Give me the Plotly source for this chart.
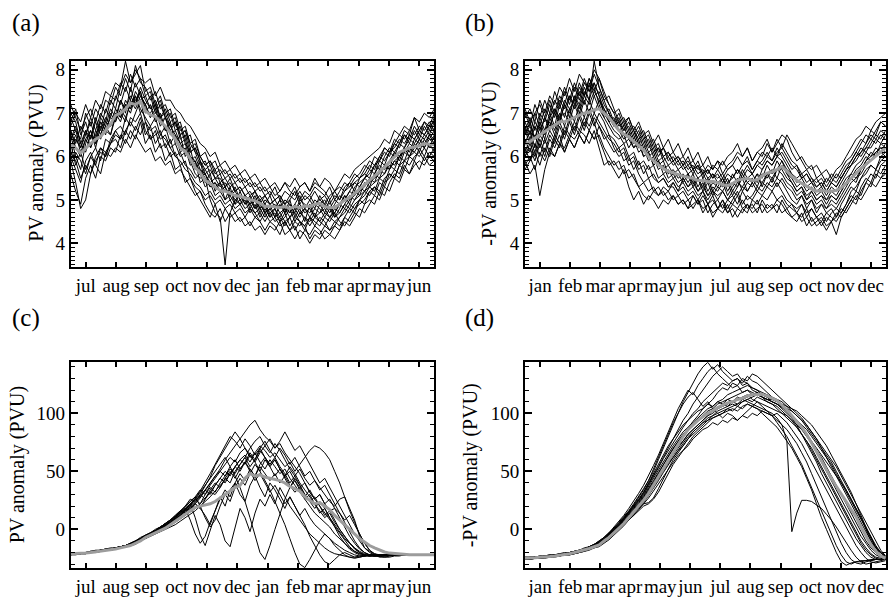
import plotly.graph_objects as go

# ---------------- data ----------------
MONTHS_JUL = ["jul", "aug", "sep", "oct", "nov", "dec", "jan", "feb", "mar", "apr", "may", "jun"]
MONTHS_JAN = ["jan", "feb", "mar", "apr", "may", "jun", "jul", "aug", "sep", "oct", "nov", "dec"]
DAYS = list(range(0, 366, 5))  # day of (shifted) year, every 5 days

A_MEAN = [6.27, 6.2, 6.08, 6.2, 6.3, 6.4, 6.46, 6.6, 6.75, 6.95,
          7.0, 7.1, 7.23, 7.2, 7.27, 7.05, 6.96, 6.92, 6.82, 6.7,
          6.55, 6.4, 6.2, 6.12, 5.95, 5.75, 5.62, 5.45, 5.38, 5.3,
          5.22, 5.2, 5.15, 5.1, 5.08, 5.05, 5.0, 4.98, 4.92, 4.85,
          4.86, 4.84, 4.82, 4.85, 4.8, 4.85, 4.82, 4.86, 4.85, 4.9,
          4.92, 4.85, 4.82, 4.83, 4.9, 5.0, 5.05, 5.15, 5.25, 5.35,
          5.45, 5.55, 5.65, 5.75, 5.88, 6.0, 6.1, 6.15, 6.2, 6.22,
          6.25, 6.3, 6.28, 6.27]

A_LINES = [
    [6.9, 6.6, 6.4, 7.0, 6.7, 7.1, 6.9, 7.3, 7.2, 7.6, 7.4, 7.8, 7.5, 8.1, 7.7, 7.6, 7.3, 7.5, 7.1, 7.2,
     6.9, 7.0, 6.6, 6.7, 6.3, 6.4, 6.0, 6.1, 5.8, 5.9, 5.6, 5.7, 5.5, 5.6, 5.4, 5.5, 5.3, 5.4, 5.2, 5.3,
     5.1, 5.3, 5.0, 5.2, 5.1, 5.3, 5.0, 5.2, 5.1, 5.3, 5.2, 5.1, 5.3, 5.0, 5.2, 5.4, 5.3, 5.5, 5.6, 5.8,
     5.7, 6.0, 5.9, 6.2, 6.1, 6.4, 6.3, 6.6, 6.5, 6.9, 6.6, 6.8, 6.7, 7.0],
    [5.6, 5.2, 4.9, 5.5, 5.8, 5.5, 6.0, 5.9, 6.2, 6.1, 6.5, 6.3, 6.6, 6.4, 6.8, 6.3, 6.5, 6.1, 6.3, 5.9,
     6.1, 5.7, 5.8, 5.4, 5.5, 5.2, 5.0, 4.8, 4.6, 4.9, 4.5, 4.8, 4.6, 4.7, 4.5, 4.6, 4.4, 4.6, 4.5, 4.3,
     4.5, 4.4, 4.2, 4.5, 4.3, 4.4, 4.1, 4.3, 4.2, 4.4, 4.3, 4.1, 4.2, 4.4, 4.3, 4.6, 4.5, 4.7, 4.6, 4.9,
     5.0, 4.9, 5.2, 5.1, 5.4, 5.6, 5.5, 5.8, 5.6, 5.9, 5.7, 6.0, 5.8, 5.9],
    [6.5, 6.0, 5.7, 6.3, 6.6, 6.2, 6.7, 6.5, 7.0, 6.8, 7.3, 7.0, 7.6, 7.2, 7.5, 7.0, 7.2, 6.8, 7.0, 6.6,
     6.8, 6.3, 6.5, 6.0, 6.2, 5.7, 5.9, 5.4, 5.6, 5.2, 5.4, 5.0, 5.3, 4.9, 5.2, 4.9, 5.1, 4.8, 5.0, 4.7,
     4.9, 4.6, 4.9, 4.7, 5.0, 4.6, 4.8, 4.5, 4.9, 4.6, 4.9, 4.7, 5.0, 4.6, 4.8, 5.1, 4.9, 5.2, 5.1, 5.4,
     5.3, 5.6, 5.5, 5.8, 5.7, 6.1, 5.9, 6.2, 6.0, 6.3, 6.1, 6.4, 6.2, 6.5],
    [7.0, 6.8, 6.3, 6.1, 6.5, 6.3, 6.8, 6.6, 6.5, 7.0, 6.8, 7.2, 7.0, 7.4, 7.1, 6.9, 6.7, 6.9, 6.5, 6.7,
     6.3, 6.5, 6.1, 6.2, 5.8, 5.9, 5.4, 5.5, 5.0, 4.7, 4.6, 3.5, 4.7, 5.0, 4.9, 5.1, 4.8, 5.0, 4.7, 4.9,
     4.6, 4.8, 4.5, 4.7, 4.4, 4.6, 4.5, 4.3, 4.6, 4.4, 4.6, 4.5, 4.3, 4.4, 4.6, 4.8, 4.7, 4.9, 5.0, 5.1,
     5.3, 5.2, 5.5, 5.4, 5.7, 5.9, 5.8, 6.1, 6.0, 6.2, 6.4, 6.2, 6.5, 6.3],
    [6.0, 6.4, 6.2, 6.6, 6.4, 6.8, 6.5, 6.9, 6.7, 7.1, 6.9, 7.3, 7.1, 7.5, 7.3, 7.4, 7.1, 7.2, 6.9, 7.0,
     6.7, 6.8, 6.5, 6.6, 6.3, 6.1, 6.0, 5.8, 5.9, 5.7, 5.8, 5.6, 5.7, 5.5, 5.6, 5.4, 5.5, 5.3, 5.4, 5.2,
     5.3, 5.1, 5.2, 5.4, 5.2, 5.1, 5.3, 5.4, 5.2, 5.5, 5.3, 5.2, 5.0, 5.2, 5.3, 5.2, 5.4, 5.6, 5.5, 5.7,
     5.9, 5.8, 6.0, 6.2, 6.1, 6.3, 6.5, 6.4, 6.6, 6.5, 6.7, 6.6, 6.8, 6.6],
    [5.9, 5.4, 4.8, 5.0, 5.6, 5.9, 6.1, 6.0, 6.4, 6.6, 6.4, 6.9, 6.7, 7.0, 7.3, 6.8, 6.6, 6.7, 6.4, 6.5,
     6.2, 6.0, 5.9, 5.7, 5.6, 5.4, 5.3, 5.1, 5.2, 5.0, 5.1, 4.9, 5.0, 4.8, 4.9, 4.7, 4.8, 4.6, 4.7, 4.5,
     4.7, 4.5, 4.6, 4.4, 4.6, 4.3, 4.5, 4.4, 4.1, 4.3, 4.2, 4.4, 4.3, 4.5, 4.4, 4.6, 4.8, 4.7, 5.0, 4.9,
     5.2, 5.1, 5.4, 5.3, 5.6, 5.5, 5.8, 5.7, 6.0, 5.9, 6.2, 6.0, 6.3, 6.1],
    [6.6, 6.3, 6.7, 6.5, 6.9, 6.6, 7.0, 6.8, 7.3, 7.1, 7.6, 8.2, 7.7, 7.9, 8.1, 7.5, 7.6, 7.2, 7.4, 7.0,
     7.1, 6.7, 6.8, 6.4, 6.5, 6.1, 5.8, 5.9, 5.6, 5.7, 5.4, 5.5, 5.3, 5.4, 5.2, 5.3, 5.1, 5.2, 5.0, 5.1,
     4.9, 5.0, 5.1, 4.9, 5.0, 5.2, 4.9, 5.1, 5.0, 5.2, 5.0, 4.9, 5.1, 5.2, 5.0, 5.3, 5.4, 5.2, 5.5, 5.6,
     5.5, 5.8, 5.9, 6.1, 6.0, 6.3, 6.2, 6.5, 6.4, 6.7, 6.5, 6.8, 6.6, 6.9],
    [6.3, 5.8, 6.1, 5.7, 6.0, 6.2, 5.9, 6.4, 6.3, 6.6, 6.7, 6.5, 6.9, 6.8, 7.0, 6.6, 6.4, 6.6, 6.2, 6.3,
     6.0, 6.1, 5.8, 5.9, 5.5, 5.3, 5.2, 5.0, 5.1, 4.9, 5.0, 4.8, 4.9, 4.7, 4.8, 4.6, 4.8, 4.7, 4.5, 4.7,
     4.5, 4.6, 4.4, 4.5, 4.3, 4.5, 4.4, 4.6, 4.5, 4.7, 4.5, 4.4, 4.6, 4.5, 4.6, 4.7, 4.9, 4.8, 5.0, 5.2,
     5.1, 5.3, 5.2, 5.5, 5.6, 5.5, 5.8, 5.9, 6.0, 6.1, 6.0, 6.2, 6.0, 6.2],
    [6.8, 7.1, 6.5, 6.8, 6.4, 6.9, 6.6, 7.1, 6.9, 7.4, 7.2, 7.6, 7.3, 7.7, 7.4, 7.2, 7.4, 7.0, 7.2, 6.9,
     7.0, 6.6, 6.7, 6.3, 6.1, 6.2, 5.9, 5.6, 5.7, 5.5, 5.6, 5.3, 5.5, 5.2, 5.3, 5.1, 5.2, 5.0, 5.1, 4.9,
     5.1, 4.8, 5.0, 4.9, 4.7, 4.9, 5.1, 4.8, 5.0, 4.8, 5.1, 4.9, 4.7, 4.9, 5.1, 5.0, 5.2, 5.4, 5.3, 5.5,
     5.7, 5.6, 5.9, 5.8, 6.1, 6.0, 6.3, 6.5, 6.3, 6.6, 6.4, 6.7, 6.5, 6.8],
    [6.1, 5.9, 5.5, 5.8, 5.6, 6.0, 6.2, 6.1, 6.3, 6.5, 6.4, 6.6, 6.8, 6.6, 6.9, 6.5, 6.7, 6.3, 6.5, 6.4,
     6.2, 6.3, 6.0, 6.1, 5.9, 5.6, 5.5, 5.6, 5.3, 5.4, 5.2, 5.3, 5.1, 5.2, 5.0, 5.1, 4.9, 5.0, 4.8, 4.9,
     4.7, 4.8, 4.6, 4.8, 4.7, 4.9, 4.7, 4.8, 4.6, 4.8, 4.7, 4.8, 4.6, 4.7, 4.9, 4.8, 5.0, 5.1, 5.3, 5.2,
     5.4, 5.5, 5.6, 5.8, 5.7, 5.9, 6.0, 6.2, 6.1, 6.4, 6.3, 6.5, 6.4, 6.6],
    [7.2, 6.9, 6.6, 6.9, 7.1, 6.8, 7.2, 7.0, 7.4, 7.3, 7.7, 7.5, 7.9, 7.6, 7.8, 7.4, 7.5, 7.1, 7.3, 6.9,
     6.6, 6.8, 6.4, 6.5, 6.1, 6.2, 5.9, 5.7, 5.8, 5.5, 5.5, 5.3, 5.4, 5.2, 5.3, 5.1, 5.0, 5.2, 4.9, 5.1,
     4.9, 4.8, 5.0, 4.7, 4.9, 4.8, 4.6, 4.8, 4.7, 4.9, 4.8, 4.6, 4.8, 4.7, 4.9, 5.1, 5.0, 5.3, 5.4, 5.5,
     5.6, 5.8, 5.7, 6.0, 6.2, 6.1, 6.3, 6.2, 6.5, 6.4, 6.6, 6.5, 6.7, 6.8],
    [5.8, 6.1, 5.9, 5.6, 6.0, 5.8, 6.2, 6.0, 6.3, 6.4, 6.2, 6.6, 6.4, 6.7, 6.5, 6.8, 6.4, 6.5, 6.6, 6.2,
     6.4, 6.0, 6.1, 5.8, 5.7, 5.5, 5.6, 5.3, 5.4, 5.1, 5.2, 5.0, 5.1, 4.9, 5.0, 4.8, 4.9, 4.7, 4.8, 4.6,
     4.8, 4.6, 4.7, 4.5, 4.6, 4.7, 4.5, 4.4, 4.6, 4.5, 4.4, 4.6, 4.5, 4.7, 4.5, 4.4, 4.6, 4.8, 4.9, 5.0,
     5.2, 5.3, 5.1, 5.4, 5.5, 5.7, 5.6, 5.9, 5.8, 6.0, 6.1, 5.9, 6.1, 6.0],
    [6.4, 6.7, 6.3, 6.6, 6.2, 6.5, 6.8, 6.6, 6.9, 6.8, 7.1, 6.9, 7.2, 7.4, 7.0, 7.2, 6.9, 7.1, 6.7, 6.9,
     6.5, 6.6, 6.3, 6.4, 6.0, 5.8, 5.7, 5.6, 5.4, 5.5, 5.3, 5.4, 5.2, 5.0, 5.1, 4.9, 5.0, 4.8, 4.9, 4.7,
     4.8, 4.9, 4.7, 4.8, 4.6, 4.8, 4.9, 4.7, 4.8, 4.6, 4.7, 4.9, 4.8, 4.6, 4.7, 4.9, 5.1, 5.0, 5.2, 5.3,
     5.5, 5.4, 5.7, 5.6, 5.9, 5.8, 6.0, 6.1, 6.3, 6.2, 6.4, 6.3, 6.5, 6.4],
    [6.0, 5.7, 5.4, 5.9, 6.1, 5.8, 5.6, 6.1, 6.0, 6.2, 6.1, 6.4, 6.2, 6.5, 6.3, 6.1, 6.2, 5.9, 6.0, 5.8,
     5.9, 5.6, 5.7, 5.5, 5.3, 5.1, 5.2, 4.9, 4.7, 4.6, 4.8, 4.5, 4.7, 4.5, 4.6, 4.4, 4.5, 4.3, 4.4, 4.2,
     4.4, 4.3, 4.5, 4.2, 4.3, 4.1, 4.3, 4.2, 4.0, 4.2, 4.1, 4.3, 4.2, 4.1, 4.3, 4.5, 4.4, 4.6, 4.8, 4.7,
     4.9, 5.1, 5.0, 5.3, 5.2, 5.5, 5.4, 5.7, 5.6, 5.8, 5.9, 5.8, 6.0, 5.9],
    [6.7, 7.0, 6.8, 7.2, 6.9, 7.3, 7.1, 7.5, 7.4, 7.7, 7.6, 7.9, 7.7, 8.0, 7.8, 7.7, 7.8, 7.4, 7.6, 7.3,
     7.3, 7.1, 7.0, 6.8, 6.7, 6.5, 6.3, 6.2, 6.0, 6.1, 5.8, 5.9, 5.7, 5.8, 5.6, 5.7, 5.5, 5.6, 5.4, 5.5,
     5.3, 5.4, 5.2, 5.4, 5.3, 5.5, 5.3, 5.4, 5.2, 5.4, 5.3, 5.5, 5.4, 5.2, 5.4, 5.6, 5.5, 5.7, 5.8, 5.9,
     6.0, 6.1, 6.2, 6.4, 6.3, 6.6, 6.5, 6.7, 6.6, 6.9, 6.8, 7.0, 6.9, 7.1],
    [6.2, 6.5, 6.1, 6.4, 6.6, 6.3, 6.5, 6.8, 6.7, 7.0, 6.9, 7.2, 7.1, 7.3, 7.5, 7.1, 7.0, 7.2, 6.8, 6.9,
     6.7, 6.5, 6.3, 6.1, 6.0, 5.9, 5.6, 5.7, 5.5, 5.3, 5.4, 5.2, 5.1, 5.3, 5.0, 5.1, 4.9, 5.1, 4.8, 5.0,
     4.9, 5.0, 4.8, 5.0, 4.9, 4.7, 5.0, 4.9, 4.8, 5.0, 4.9, 5.0, 4.8, 5.0, 4.9, 5.0, 5.2, 5.1, 5.3, 5.5,
     5.4, 5.6, 5.8, 5.7, 5.9, 6.1, 6.0, 6.2, 6.4, 6.3, 6.5, 6.4, 6.6, 6.5],
    [6.6, 6.2, 6.0, 6.4, 6.2, 6.6, 6.4, 6.7, 6.5, 6.9, 7.0, 6.8, 7.3, 7.1, 7.4, 7.2, 6.9, 7.0, 6.9, 6.6,
     6.6, 6.4, 6.2, 6.3, 5.9, 6.0, 5.7, 5.5, 5.3, 5.4, 5.2, 5.3, 5.0, 5.1, 4.9, 5.0, 4.7, 4.9, 4.6, 4.8,
     4.6, 4.7, 4.5, 4.6, 4.8, 4.5, 4.7, 4.6, 4.4, 4.6, 4.5, 4.7, 4.6, 4.8, 4.7, 4.9, 4.8, 5.0, 5.1, 5.2,
     5.3, 5.4, 5.5, 5.6, 5.8, 5.7, 6.0, 5.9, 6.2, 6.1, 6.3, 6.2, 6.4, 6.3],
    [6.4, 6.6, 6.2, 6.5, 6.8, 6.4, 6.9, 6.7, 7.1, 6.9, 7.3, 7.1, 7.4, 7.2, 7.6, 7.3, 7.1, 7.3, 6.9, 7.1,
     6.8, 6.9, 6.5, 6.6, 6.2, 6.3, 6.0, 5.8, 5.9, 5.6, 5.7, 5.5, 5.6, 5.4, 5.5, 5.3, 5.4, 5.2, 5.3, 5.1,
     5.2, 5.0, 5.1, 4.9, 5.1, 5.0, 5.2, 5.0, 5.1, 4.9, 5.0, 5.1, 4.9, 5.1, 5.0, 5.2, 5.3, 5.4, 5.5, 5.6,
     5.8, 5.7, 6.0, 5.9, 6.1, 6.2, 6.4, 6.3, 6.5, 6.4, 6.6, 6.5, 6.7, 6.6],
]

B_MEAN = [6.27, 6.35, 6.42, 6.5, 6.58, 6.65, 6.72, 6.8, 6.8, 6.85,
          6.9, 6.96, 7.0, 7.02, 7.08, 7.1, 7.0, 6.9, 6.75, 6.6,
          6.52, 6.45, 6.35, 6.25, 6.15, 6.0, 5.9, 5.8, 5.72, 5.66,
          5.62, 5.58, 5.55, 5.52, 5.5, 5.45, 5.45, 5.42, 5.43, 5.4,
          5.35, 5.33, 5.38, 5.45, 5.48, 5.5, 5.45, 5.46, 5.55, 5.62,
          5.65, 5.7, 5.77, 5.65, 5.55, 5.45, 5.38, 5.33, 5.25, 5.2,
          5.22, 5.2, 5.2, 5.22, 5.28, 5.38, 5.5, 5.62, 5.73, 5.82,
          5.92, 6.02, 6.12, 6.2]

B_LINES = [
    [6.9, 7.1, 6.8, 7.3, 7.0, 7.4, 7.2, 7.6, 7.4, 7.8, 7.5, 7.9, 7.7, 7.6, 8.0, 7.8, 7.5, 7.2, 7.0, 7.1,
     6.8, 6.9, 6.6, 6.8, 6.5, 6.6, 6.3, 6.5, 6.2, 6.4, 6.1, 6.3, 6.0, 6.2, 5.9, 6.1, 5.8, 6.0, 5.7, 5.9,
     5.8, 6.0, 6.1, 6.3, 6.0, 6.2, 5.9, 6.1, 6.2, 6.4, 6.1, 6.3, 6.5, 6.4, 6.1, 5.9, 6.0, 5.8, 5.7, 5.8,
     5.6, 5.7, 5.5, 5.7, 5.8, 6.0, 6.2, 6.4, 6.5, 6.7, 6.6, 6.8, 6.9, 7.0],
    [5.9, 5.6, 5.8, 5.1, 5.7, 6.1, 6.0, 6.3, 6.2, 6.5, 6.4, 6.6, 6.5, 6.3, 6.6, 6.2, 5.8, 5.9, 5.7, 5.5,
     5.7, 5.3, 5.0, 5.2, 4.9, 5.1, 5.0, 4.8, 5.0, 4.9, 5.1, 4.9, 5.0, 4.8, 5.1, 4.9, 5.0, 4.7, 4.9, 5.0,
     4.8, 5.0, 4.9, 5.1, 4.8, 4.7, 5.0, 4.9, 5.1, 5.0, 5.2, 5.0, 5.1, 4.9, 4.8, 4.7, 4.9, 4.6, 4.8, 4.6,
     4.5, 4.7, 4.6, 4.5, 4.7, 4.9, 5.1, 5.0, 5.3, 5.5, 5.4, 5.7, 5.6, 5.8],
    [6.3, 6.6, 6.2, 6.7, 6.4, 6.9, 6.6, 7.0, 6.7, 7.1, 6.8, 7.2, 6.9, 7.3, 7.0, 7.3, 7.1, 6.8, 6.9, 6.6,
     6.7, 6.4, 6.5, 6.2, 6.3, 6.0, 6.1, 5.8, 5.9, 5.6, 5.7, 5.5, 5.6, 5.4, 5.6, 5.3, 5.5, 5.2, 5.4, 5.3,
     5.5, 5.2, 5.4, 5.3, 5.6, 5.4, 5.5, 5.3, 5.6, 5.5, 5.7, 5.5, 5.8, 5.6, 5.5, 5.3, 5.4, 5.2, 5.3, 5.1,
     5.2, 5.0, 5.2, 5.1, 5.3, 5.5, 5.6, 5.8, 5.9, 6.1, 6.0, 6.2, 6.1, 6.3],
    [6.6, 6.3, 6.7, 6.5, 6.9, 6.6, 7.1, 6.8, 7.2, 7.0, 7.4, 7.1, 7.5, 7.3, 8.2, 7.6, 7.3, 7.0, 6.8, 6.6,
     6.4, 6.5, 6.2, 6.4, 6.0, 6.1, 5.8, 5.9, 5.6, 5.7, 5.5, 5.6, 5.4, 5.6, 5.3, 5.5, 5.2, 5.4, 5.1, 5.3,
     5.2, 5.4, 5.1, 5.3, 5.5, 5.2, 5.4, 5.6, 5.3, 5.6, 5.4, 5.7, 5.9, 5.6, 5.4, 5.2, 5.3, 5.0, 5.1, 4.9,
     5.0, 4.8, 5.0, 4.9, 5.1, 5.3, 5.5, 5.4, 5.7, 5.9, 6.1, 6.0, 6.3, 6.2],
    [6.0, 6.2, 5.9, 6.3, 6.0, 6.4, 6.2, 6.5, 6.1, 6.4, 6.2, 6.5, 6.3, 6.6, 6.4, 6.7, 6.5, 6.3, 6.1, 6.2,
     5.9, 6.0, 5.7, 5.9, 5.6, 5.8, 5.5, 5.4, 5.5, 5.3, 5.4, 5.2, 5.3, 5.1, 5.2, 5.0, 5.2, 4.9, 5.1, 4.8,
     5.0, 4.7, 4.9, 4.8, 5.0, 4.8, 4.9, 4.7, 5.0, 4.8, 4.9, 4.7, 5.0, 4.8, 4.9, 4.7, 4.6, 4.8, 4.5, 4.6,
     4.4, 4.6, 4.5, 4.2, 4.6, 4.8, 5.0, 5.2, 5.1, 5.4, 5.6, 5.5, 5.8, 5.9],
    [6.5, 6.8, 6.4, 6.9, 6.6, 7.0, 6.7, 7.2, 6.9, 7.4, 7.1, 7.5, 7.2, 7.7, 7.4, 7.5, 7.2, 7.0, 6.7, 6.9,
     6.6, 6.8, 6.5, 6.7, 6.4, 6.5, 6.2, 6.3, 6.0, 6.1, 5.9, 6.0, 5.8, 6.0, 5.7, 5.9, 5.6, 5.8, 5.7, 5.9,
     5.6, 5.8, 5.9, 6.1, 6.0, 6.2, 5.9, 6.1, 6.0, 6.3, 6.1, 6.4, 6.2, 6.5, 6.3, 6.1, 5.9, 5.7, 5.8, 5.5,
     5.6, 5.4, 5.6, 5.5, 5.7, 5.9, 6.0, 6.2, 6.4, 6.3, 6.6, 6.5, 6.8, 6.7],
    [5.7, 5.9, 6.1, 5.8, 6.2, 6.0, 6.4, 6.2, 6.6, 6.4, 6.7, 6.5, 6.8, 6.6, 6.9, 6.7, 6.4, 6.5, 6.2, 6.0,
     6.1, 5.8, 5.9, 5.6, 5.4, 5.5, 5.2, 5.3, 5.1, 5.2, 5.0, 5.1, 4.9, 5.0, 4.8, 5.0, 4.7, 4.9, 4.6, 4.8,
     4.7, 4.9, 4.6, 4.8, 4.7, 4.9, 4.8, 5.0, 4.7, 4.9, 4.8, 5.0, 4.9, 4.7, 4.6, 4.5, 4.7, 4.4, 4.6, 4.4,
     4.5, 4.3, 4.5, 4.7, 4.6, 4.8, 5.0, 4.9, 5.2, 5.4, 5.3, 5.6, 5.5, 5.7],
    [7.0, 6.7, 7.2, 6.9, 7.3, 7.0, 7.5, 7.2, 7.6, 7.3, 7.7, 7.4, 7.8, 7.5, 7.7, 7.4, 7.0, 7.1, 6.8, 7.0,
     6.7, 6.9, 6.6, 6.4, 6.5, 6.2, 6.3, 6.0, 6.2, 5.9, 6.0, 5.8, 5.9, 5.7, 5.8, 5.6, 5.7, 5.5, 5.6, 5.4,
     5.5, 5.3, 5.6, 5.4, 5.7, 5.5, 5.6, 5.4, 5.7, 5.9, 5.8, 6.0, 6.1, 5.9, 5.7, 5.8, 5.5, 5.6, 5.4, 5.5,
     5.3, 5.5, 5.4, 5.6, 5.5, 5.7, 5.9, 6.1, 6.0, 6.2, 6.4, 6.3, 6.5, 6.4],
    [6.1, 6.4, 6.1, 6.5, 6.3, 6.6, 6.4, 6.8, 6.5, 6.9, 6.6, 7.0, 6.7, 7.1, 6.8, 6.4, 6.1, 5.8, 5.9, 5.7,
     5.8, 5.5, 5.6, 5.3, 5.1, 5.0, 5.2, 5.1, 5.3, 5.2, 5.4, 5.2, 5.5, 5.3, 5.4, 5.2, 5.3, 5.1, 5.2, 5.0,
     5.2, 5.0, 5.1, 4.9, 5.2, 5.0, 5.1, 5.3, 5.2, 5.4, 5.3, 5.5, 5.4, 5.2, 5.0, 4.9, 5.1, 4.8, 5.0, 4.7,
     4.9, 4.7, 4.8, 4.6, 4.9, 5.1, 5.3, 5.2, 5.5, 5.7, 5.8, 5.7, 6.0, 6.1],
    [6.4, 6.1, 6.5, 6.2, 6.6, 6.8, 6.5, 6.9, 7.0, 6.8, 7.2, 6.9, 7.3, 7.0, 7.4, 7.1, 6.9, 6.7, 6.5, 6.4,
     6.5, 6.2, 6.4, 6.1, 6.2, 5.9, 6.0, 5.7, 5.8, 5.5, 5.6, 5.4, 5.5, 5.3, 5.5, 5.2, 5.4, 5.1, 5.3, 5.2,
     5.4, 5.1, 5.3, 5.5, 5.2, 5.4, 5.3, 5.5, 5.4, 5.6, 5.5, 5.7, 5.6, 5.4, 5.3, 5.1, 5.2, 5.0, 5.2, 5.0,
     5.1, 4.9, 5.1, 5.0, 5.2, 5.4, 5.5, 5.7, 5.8, 6.0, 5.9, 6.1, 6.2, 6.1],
    [6.8, 6.5, 7.0, 6.7, 7.1, 6.9, 7.3, 7.1, 7.5, 7.2, 7.6, 7.3, 7.7, 7.5, 7.9, 7.6, 7.3, 7.4, 7.1, 6.8,
     6.9, 6.6, 6.7, 6.5, 6.6, 6.3, 6.4, 6.1, 6.2, 6.0, 6.1, 5.9, 6.0, 5.8, 5.9, 5.7, 5.8, 5.6, 5.8, 5.7,
     5.9, 5.7, 5.8, 6.0, 5.8, 6.0, 5.7, 5.9, 6.1, 6.0, 6.2, 6.0, 6.3, 6.1, 5.9, 5.8, 5.6, 5.7, 5.5, 5.4,
     5.5, 5.3, 5.5, 5.4, 5.6, 5.8, 5.9, 6.1, 6.3, 6.5, 6.4, 6.6, 6.8, 6.7],
    [5.8, 6.0, 5.7, 6.1, 5.9, 6.2, 6.0, 6.3, 6.1, 6.4, 6.2, 6.5, 6.3, 6.6, 6.4, 6.5, 6.2, 6.0, 5.8, 5.9,
     5.6, 5.7, 5.5, 5.3, 5.4, 5.2, 5.3, 5.1, 5.2, 5.0, 5.1, 4.9, 5.0, 4.8, 4.9, 5.0, 4.8, 4.9, 4.7, 4.8,
     4.9, 4.7, 4.8, 4.6, 4.8, 4.9, 4.7, 4.8, 4.9, 4.7, 4.8, 4.9, 4.7, 4.8, 4.6, 4.7, 4.5, 4.6, 4.4, 4.5,
     4.6, 4.4, 4.5, 4.6, 4.8, 4.7, 4.9, 5.1, 5.0, 5.2, 5.4, 5.3, 5.5, 5.6],
    [6.6, 6.9, 6.6, 7.0, 6.8, 7.2, 6.9, 7.3, 7.1, 7.4, 7.2, 7.6, 7.4, 7.8, 7.5, 7.8, 7.4, 7.2, 7.0, 6.7,
     6.8, 6.5, 6.6, 6.3, 6.4, 6.1, 6.2, 5.9, 6.0, 5.8, 5.9, 5.7, 5.8, 5.6, 5.7, 5.5, 5.6, 5.4, 5.6, 5.5,
     5.6, 5.4, 5.5, 5.7, 5.5, 5.7, 5.6, 5.8, 5.7, 5.9, 5.8, 6.0, 5.9, 5.7, 5.6, 5.4, 5.5, 5.3, 5.4, 5.2,
     5.3, 5.1, 5.3, 5.2, 5.4, 5.6, 5.8, 5.9, 6.1, 6.2, 6.2, 6.4, 6.3, 6.5],
    [6.2, 5.9, 6.3, 6.0, 6.4, 6.1, 6.5, 6.3, 6.7, 6.5, 6.8, 6.6, 6.9, 6.7, 7.0, 6.8, 6.6, 6.4, 6.3, 6.1,
     6.2, 5.9, 6.0, 5.7, 5.8, 5.5, 5.6, 5.4, 5.5, 5.3, 5.3, 5.1, 5.2, 5.0, 5.1, 4.9, 5.1, 4.9, 5.0, 4.8,
     5.0, 4.8, 5.0, 5.2, 4.9, 5.1, 5.0, 5.2, 5.1, 5.3, 5.2, 5.4, 5.2, 5.0, 4.9, 4.8, 4.9, 4.7, 4.8, 4.6,
     4.7, 4.5, 4.7, 4.8, 4.7, 4.9, 5.2, 5.3, 5.5, 5.6, 5.8, 5.7, 5.9, 6.0],
    [6.5, 6.7, 6.4, 6.8, 6.5, 6.9, 7.1, 6.9, 7.3, 7.1, 7.3, 7.0, 7.4, 7.2, 7.5, 7.3, 7.0, 6.8, 6.6, 6.5,
     6.3, 6.4, 6.2, 6.3, 6.0, 6.1, 5.8, 5.9, 5.7, 5.8, 5.6, 5.7, 5.5, 5.6, 5.4, 5.5, 5.3, 5.5, 5.2, 5.4,
     5.3, 5.5, 5.2, 5.4, 5.3, 5.5, 5.4, 5.6, 5.5, 5.8, 5.6, 5.9, 5.7, 5.5, 5.4, 5.2, 5.3, 5.1, 5.2, 5.0,
     5.1, 5.0, 5.1, 5.0, 5.2, 5.4, 5.6, 5.5, 5.7, 5.9, 6.0, 6.1, 6.2, 6.2],
    [7.1, 6.8, 7.0, 7.2, 6.9, 7.3, 7.0, 7.4, 7.2, 7.6, 7.3, 7.7, 7.4, 7.8, 7.6, 7.2, 6.9, 7.0, 6.7, 6.8,
     6.5, 6.6, 6.3, 6.5, 6.2, 6.3, 6.0, 6.2, 5.9, 6.0, 5.8, 5.9, 5.7, 5.8, 5.6, 5.8, 5.5, 5.7, 5.5, 5.6,
     5.4, 5.6, 5.5, 5.7, 5.6, 5.8, 5.6, 5.8, 5.9, 6.1, 5.9, 6.2, 6.0, 5.8, 5.6, 5.5, 5.6, 5.4, 5.5, 5.3,
     5.4, 5.2, 5.4, 5.3, 5.5, 5.7, 5.8, 6.0, 6.2, 6.1, 6.3, 6.5, 6.4, 6.6],
    [6.0, 6.3, 6.0, 6.4, 6.1, 6.5, 6.3, 6.7, 6.4, 6.8, 6.5, 6.9, 6.6, 7.0, 6.7, 7.0, 6.8, 6.5, 6.4, 6.2,
     6.3, 6.0, 6.1, 5.8, 5.9, 5.7, 5.8, 5.5, 5.6, 5.4, 5.5, 5.3, 5.4, 5.2, 5.3, 5.1, 5.2, 5.0, 5.2, 5.1,
     5.2, 5.0, 5.2, 5.1, 5.3, 5.2, 5.4, 5.2, 5.4, 5.3, 5.5, 5.3, 5.5, 5.3, 5.2, 5.0, 5.1, 4.9, 5.0, 4.8,
     4.9, 4.8, 4.9, 4.8, 5.0, 5.2, 5.4, 5.5, 5.6, 5.8, 5.9, 6.0, 6.1, 6.0],
    [6.7, 6.4, 6.8, 6.6, 6.9, 6.7, 7.0, 6.8, 7.2, 6.9, 7.4, 7.2, 7.6, 7.3, 7.7, 7.4, 7.1, 6.9, 6.7, 6.8,
     6.6, 6.7, 6.4, 6.6, 6.3, 6.4, 6.1, 6.2, 6.0, 6.1, 5.9, 6.0, 5.8, 5.9, 5.7, 5.8, 5.6, 5.7, 5.5, 5.7,
     5.5, 5.7, 5.8, 5.6, 5.8, 5.9, 5.7, 5.9, 5.8, 6.0, 5.9, 6.1, 6.2, 6.0, 5.8, 5.7, 5.5, 5.6, 5.4, 5.3,
     5.4, 5.2, 5.4, 5.3, 5.5, 5.7, 5.8, 6.0, 6.1, 6.3, 6.5, 6.4, 6.6, 6.5],
]

C_MEAN = [-21, -21, -21, -20.5, -20, -19.5, -19, -18.5, -18, -17,
          -16, -15, -14, -12, -10, -7, -5, -3, -1, 1,
          4, 7, 10, 13, 16, 19, 20, 21, 22, 24,
          27, 30, 33, 36, 38, 44, 48, 46, 47, 45,
          44, 43, 42, 40, 37, 35, 33, 28, 25, 22,
          23, 20, 17, 12, 8, 4, 0, -4, -8, -11,
          -14, -16, -18, -19.5, -20.5, -21, -21.5, -22, -22, -22,
          -22, -22, -22, -22]

C_LINES = [
    [-21, -21, -20, -20, -19, -19, -18, -17, -17, -16, -15, -14, -13, -11, -8, -6, -4, -2, 0, 3,
     5, 7, 10, 14, 18, 22, 27, 33, 40, 46, 52, 60, 66, 72, 78, 84, 90, 94, 86, 80,
     76, 70, 74, 66, 60, 55, 48, 40, 32, 26, 20, 14, 8, 2, -4, -10, -15, -19, -21, -22,
     -23, -23, -23, -22, -22, -22, -22, -22, -22, -22, -22, -22, -22, -22],
    [-21, -21, -21, -20, -20, -19, -18, -18, -17, -16, -15, -15, -13, -12, -9, -7, -5, -2, 1, 4,
     7, 10, 15, 20, 26, 24, 30, 38, 45, 55, 62, 70, 76, 84, 78, 70, 62, 66, 58, 52,
     60, 54, 48, 52, 44, 38, 32, 26, 20, 14, 10, 6, 2, -4, -8, -12, -16, -19, -21, -22,
     -22, -23, -23, -22, -22, -22, -22, -22, -22, -22, -22, -22, -22, -22],
    [-21, -21, -20, -20, -20, -19, -19, -18, -17, -17, -16, -15, -14, -12, -9, -7, -5, -3, -1, 1,
     4, 8, 12, 17, 22, 10, -5, -14, 0, 12, 4, -10, -15, 2, 18, 10, -2, 14, 26, 20,
     30, 22, 36, 28, 20, 14, 8, 2, -4, -8, -12, -16, -19, -21, -22, -23, -24, -24, -23, -23,
     -22, -22, -22, -22, -22, -22, -22, -22, -22, -22, -22, -22, -22, -22],
    [-22, -22, -21, -21, -20, -20, -19, -18, -18, -17, -16, -15, -14, -13, -10, -8, -6, -4, -2, 0,
     2, 4, 7, 10, 13, 16, 20, 24, 28, 33, 38, 42, 48, 55, 60, 64, 58, 66, 72, 68,
     62, 66, 60, 54, 58, 50, 56, 62, 68, 72, 70, 66, 60, 50, 40, 28, 16, 6, -4, -12,
     -18, -21, -23, -24, -24, -23, -23, -22, -22, -22, -22, -22, -22, -22],
    [-21, -21, -20, -20, -19, -19, -18, -17, -16, -16, -15, -14, -12, -10, -8, -5, -3, 0, 2, 4,
     6, 9, 12, 15, 19, 23, 28, 34, 40, 46, 50, 56, 62, 58, 66, 70, 64, 58, 50, 42,
     34, 24, 14, 4, -8, -20, -30, -33, -26, -18, -10, -4, -8, -14, -18, -22, -24, -25, -24, -23,
     -23, -22, -22, -22, -22, -22, -22, -22, -22, -22, -22, -22, -22, -22],
    [-21, -21, -21, -20, -20, -19, -18, -18, -17, -16, -15, -14, -13, -11, -9, -6, -4, -1, 2, 5,
     8, 12, 16, 14, 20, 26, 22, 30, 36, 32, 40, 46, 52, 48, 56, 62, 70, 76, 80, 72,
     66, 74, 68, 60, 52, 46, 52, 44, 38, 42, 36, 30, 24, 20, 26, 28, 18, 8, -6, -16,
     -20, -22, -23, -23, -22, -22, -22, -22, -22, -22, -22, -22, -22, -22],
    [-21, -21, -20, -20, -19, -18, -18, -17, -17, -16, -15, -14, -12, -10, -7, -5, -3, -1, 2, 5,
     8, 11, 14, 18, 16, 22, 18, 12, 4, 16, 28, 20, 34, 40, 30, 24, 38, 46, 36, 28,
     40, 34, 26, 18, 28, 20, 12, 18, 10, 4, 0, -4, -8, -12, -15, -18, -20, -22, -23, -23,
     -22, -22, -22, -22, -22, -22, -22, -22, -22, -22, -22, -22, -22, -22],
    [-21, -21, -21, -20, -20, -19, -19, -18, -17, -17, -16, -15, -14, -12, -10, -7, -5, -3, -1, 2,
     4, 6, 9, 12, 15, 18, 22, 27, 32, 38, 44, 50, 46, 54, 60, 56, 64, 58, 66, 72,
     78, 70, 76, 84, 76, 68, 72, 64, 56, 48, 40, 44, 36, 28, 20, 12, 4, -4, -10, -16,
     -19, -21, -22, -23, -23, -22, -22, -22, -22, -22, -22, -22, -22, -22],
    [-21, -21, -20, -20, -20, -19, -18, -18, -17, -16, -15, -14, -13, -11, -8, -6, -4, -2, 1, 3,
     6, 9, 13, 17, 21, 26, 32, 38, 44, 50, 56, 62, 54, 46, 36, 24, 10, -6, -20, -26,
     -14, 0, 14, 26, 36, 44, 38, 30, 24, 18, 24, 18, 10, 4, -2, -8, -12, -16, -19, -21,
     -22, -22, -23, -23, -22, -22, -22, -22, -22, -22, -22, -22, -22, -22],
    [-22, -21, -21, -21, -20, -20, -19, -18, -18, -17, -16, -15, -14, -12, -9, -7, -5, -2, 0, 2,
     5, 8, 11, 14, 18, 22, 18, 26, 32, 30, 36, 44, 40, 50, 56, 62, 54, 60, 68, 62,
     56, 60, 52, 46, 50, 42, 36, 40, 32, 26, 30, 22, 16, 18, 10, 2, -6, -12, -17, -20,
     -22, -23, -23, -22, -22, -22, -22, -22, -22, -22, -22, -22, -22, -22],
    [-21, -21, -21, -20, -20, -19, -19, -18, -17, -16, -15, -14, -13, -11, -9, -7, -4, -2, 1, 4,
     7, 11, 15, 19, 24, 28, 34, 30, 38, 44, 50, 46, 54, 60, 52, 58, 66, 60, 70, 76,
     68, 62, 70, 64, 56, 62, 54, 46, 50, 42, 34, 38, 30, 22, 14, 6, -2, -10, -16, -20,
     -22, -23, -23, -22, -22, -22, -22, -22, -22, -22, -22, -22, -22, -22],
    [-21, -21, -20, -20, -20, -19, -18, -18, -17, -16, -15, -14, -13, -11, -8, -6, -4, -1, 2, 5,
     8, 12, 16, 20, 24, 28, 20, 10, 2, 8, 20, 30, 24, 36, 44, 38, 48, 56, 50, 60,
     54, 46, 52, 44, 36, 42, 34, 26, 30, 22, 14, 18, 10, 2, -6, -12, -17, -20, -22, -23,
     -23, -22, -22, -22, -22, -22, -22, -22, -22, -22, -22, -22, -22, -22],
    [-21, -21, -21, -20, -20, -19, -19, -18, -18, -17, -16, -15, -14, -12, -10, -8, -5, -3, 0, 3,
     6, 9, 13, 17, 22, 27, 33, 40, 48, 56, 64, 72, 80, 76, 70, 78, 72, 64, 70, 62,
     56, 62, 54, 48, 40, 46, 38, 30, 24, 28, 20, 12, 16, 8, 0, -6, -12, -17, -20, -22,
     -23, -23, -22, -22, -22, -22, -22, -22, -22, -22, -22, -22, -22, -22],
    [-21, -21, -20, -20, -19, -19, -18, -18, -17, -16, -15, -14, -12, -10, -8, -6, -3, -1, 2, 5,
     8, 11, 14, 18, 22, 26, 30, 26, 34, 40, 36, 44, 50, 44, 52, 58, 50, 42, 48, 40,
     32, 38, 30, 22, 28, 20, 12, 4, -6, -14, -22, -28, -30, -26, -22, -20, -22, -24, -24, -23,
     -22, -22, -22, -22, -22, -22, -22, -22, -22, -22, -22, -22, -22, -22],
    [-21, -21, -21, -20, -20, -19, -18, -18, -17, -17, -16, -15, -13, -11, -9, -7, -5, -2, 0, 3,
     6, 10, 14, 18, 8, -4, -12, -6, 6, 16, 26, 34, 28, 40, 48, 42, 52, 46, 56, 62,
     54, 60, 52, 46, 54, 48, 40, 34, 28, 22, 16, 10, 14, 6, 0, -6, -12, -16, -20, -22,
     -23, -23, -22, -22, -22, -22, -22, -22, -22, -22, -22, -22, -22, -22],
    [-22, -21, -21, -21, -20, -20, -19, -18, -17, -17, -16, -15, -14, -12, -9, -7, -5, -3, 0, 2,
     5, 8, 12, 16, 20, 24, 29, 34, 30, 38, 44, 40, 48, 54, 50, 58, 52, 46, 54, 48,
     42, 48, 40, 46, 38, 32, 36, 28, 34, 26, 30, 22, 26, 18, 14, 8, 12, 4, -4, -12,
     -18, -22, -24, -24, -23, -22, -22, -22, -22, -22, -22, -22, -22, -22],
]

D_MEAN = [-25, -25, -24.5, -24, -24, -23.5, -23, -22.5, -21.5, -21,
          -20, -19, -18, -16.5, -15, -13.5, -10, -7, -3, 1,
          5, 10, 15, 20, 25, 31, 38, 46, 53, 60,
          67, 74, 80, 86, 90, 94, 97, 100, 102, 105,
          107, 109, 110, 112, 113, 115, 116, 116.5, 116.5, 115,
          113, 111, 107, 103, 98, 93, 88, 82, 75, 67,
          59, 51, 44, 37, 31, 24, 17, 11, 2, -6,
          -13, -19, -23, -25]

D_LINES = [
    [-25, -25, -24, -24, -23, -23, -22, -22, -21, -20, -19, -18, -17, -15, -13, -11, -7, -3, 1, 6,
     11, 16, 22, 28, 35, 42, 50, 60, 70, 80, 90, 100, 110, 118, 126, 134, 140, 144, 138, 142,
     136, 132, 128, 130, 124, 126, 120, 118, 114, 112, 110, 108, 105, 102, 98, 94, 88, 82, 74, 66,
     58, 50, 42, 34, 26, 18, 10, 2, -6, -12, -18, -22, -24, -25],
    [-26, -26, -25, -25, -25, -24, -24, -23, -22, -22, -21, -20, -19, -18, -16, -15, -12, -9, -5, -1,
     3, 8, 12, 17, 22, 27, 33, 39, 46, 52, 58, 64, 68, 72, 78, 82, 86, 88, 92, 90,
     94, 92, 96, 94, 98, 96, 100, 98, 102, 100, 98, 100, 96, 92, 86, 80, 74, 66, 58, 50,
     42, 34, 26, 18, 10, 2, -6, -14, -20, -25, -28, -29, -28, -27],
    [-25, -25, -25, -24, -24, -23, -23, -22, -21, -21, -20, -19, -18, -16, -14, -12, -9, -5, -1, 4,
     9, 14, 19, 25, 32, 40, 48, 56, 64, 72, 78, 84, 90, 94, 98, 102, 104, 108, 106, 110,
     108, 112, 110, 114, 112, 110, 108, 106, 104, 102, 100, 96, 90, 76, -2, 14, 25, 25, 24, 21,
     18, 13, 8, 2, -5, -12, -18, -24, -28, -30, -29, -28, -27, -26],
    [-24, -24, -24, -23, -23, -22, -22, -21, -21, -20, -19, -18, -17, -16, -14, -12, -9, -5, -1, 3,
     7, 12, 17, 22, 28, 34, 41, 48, 56, 63, 70, 76, 82, 88, 93, 98, 104, 108, 112, 118,
     122, 120, 126, 124, 130, 128, 134, 132, 128, 124, 120, 116, 112, 108, 104, 100, 96, 90, 84, 78,
     70, 62, 54, 46, 38, 30, 22, 14, 6, -2, -10, -16, -20, -23],
    [-26, -25, -25, -25, -24, -24, -23, -23, -22, -21, -20, -19, -18, -17, -15, -13, -10, -6, -2, 2,
     6, 11, 16, 21, 27, 33, 39, 46, 53, 60, 66, 72, 76, 82, 86, 90, 94, 98, 100, 104,
     106, 108, 110, 112, 114, 116, 112, 110, 106, 102, 98, 92, 86, 80, 72, 64, 56, 46, 36, 26,
     16, 6, -4, -14, -22, -28, -30, -28, -27, -27, -26, -26, -26, -26],
    [-25, -25, -24, -24, -24, -23, -23, -22, -22, -21, -20, -19, -18, -16, -14, -11, -8, -4, 0, 5,
     10, 15, 21, 27, 34, 42, 52, 62, 72, 82, 92, 100, 108, 114, 118, 112, 106, 110, 104, 100,
     96, 100, 98, 94, 98, 102, 106, 110, 108, 106, 104, 102, 100, 98, 94, 90, 86, 80, 74, 68,
     62, 54, 46, 38, 30, 22, 14, 6, -2, -10, -16, -20, -23, -25],
    [-25, -25, -25, -24, -24, -23, -23, -22, -22, -21, -20, -19, -18, -17, -15, -13, -11, -7, -4, 0,
     4, 8, 12, 16, 20, 22, 26, 32, 40, 48, 56, 62, 68, 74, 80, 84, 88, 92, 96, 98,
     100, 104, 106, 108, 110, 112, 114, 116, 114, 112, 110, 108, 104, 100, 96, 92, 86, 82, 76, 70,
     64, 58, 52, 46, 40, 34, 26, 18, 10, 0, -10, -18, -22, -25],
    [-25, -24, -24, -24, -23, -23, -22, -22, -21, -20, -19, -18, -17, -15, -13, -10, -7, -3, 1, 5,
     10, 15, 20, 26, 32, 39, 46, 54, 62, 70, 78, 86, 94, 100, 108, 114, 120, 126, 132, 136,
     140, 136, 132, 134, 128, 126, 122, 120, 116, 114, 110, 108, 106, 104, 102, 98, 94, 88, 82, 76,
     70, 64, 58, 50, 42, 34, 26, 18, 10, 2, -6, -14, -20, -24],
    [-26, -26, -25, -25, -24, -24, -23, -23, -22, -22, -21, -20, -18, -17, -15, -13, -10, -7, -3, 1,
     5, 10, 14, 19, 25, 30, 37, 44, 51, 58, 64, 70, 76, 82, 86, 90, 94, 98, 102, 104,
     108, 106, 110, 108, 112, 114, 116, 118, 116, 114, 112, 110, 106, 102, 96, 90, 82, 74, 66, 58,
     48, 40, 32, 24, 16, 8, 0, -8, -14, -20, -24, -26, -26, -26],
    [-25, -25, -25, -24, -24, -23, -23, -23, -22, -21, -20, -19, -18, -16, -14, -12, -9, -6, -2, 3,
     8, 13, 18, 24, 30, 37, 44, 52, 59, 66, 72, 78, 84, 88, 92, 96, 100, 104, 106, 110,
     112, 116, 118, 120, 122, 124, 122, 120, 118, 116, 114, 112, 110, 106, 102, 98, 94, 90, 84, 78,
     72, 66, 60, 54, 46, 38, 30, 22, 14, 6, -2, -10, -18, -23],
    [-26, -25, -25, -24, -24, -23, -23, -22, -22, -21, -20, -19, -18, -17, -15, -13, -10, -7, -3, 1,
     5, 9, 14, 19, 24, 30, 36, 43, 50, 57, 62, 68, 72, 78, 82, 86, 90, 94, 98, 100,
     102, 104, 102, 106, 104, 108, 106, 104, 102, 100, 98, 94, 90, 86, 80, 74, 66, 58, 48, 38,
     28, 18, 8, -2, -12, -20, -26, -29, -30, -28, -27, -26, -26, -26],
    [-24, -24, -24, -23, -23, -22, -22, -21, -20, -20, -19, -18, -16, -15, -13, -11, -8, -4, 0, 4,
     9, 14, 19, 25, 31, 38, 45, 53, 61, 68, 75, 82, 88, 94, 100, 104, 110, 114, 118, 122,
     126, 124, 128, 130, 126, 132, 128, 126, 122, 118, 114, 110, 106, 102, 98, 94, 90, 86, 80, 74,
     68, 62, 56, 48, 40, 32, 24, 16, 8, 0, -8, -15, -20, -24],
    [-25, -25, -25, -24, -24, -23, -22, -22, -21, -21, -20, -19, -17, -16, -14, -12, -9, -6, -2, 2,
     6, 10, 14, 18, 22, 23, 27, 35, 44, 52, 60, 66, 72, 78, 84, 88, 92, 96, 98, 102,
     104, 106, 108, 106, 110, 112, 110, 114, 112, 110, 108, 106, 102, 98, 94, 88, 82, 76, 68, 60,
     52, 44, 36, 28, 20, 12, 4, -4, -12, -18, -22, -25, -26, -26],
    [-25, -25, -24, -24, -24, -23, -23, -22, -21, -21, -20, -19, -18, -16, -14, -12, -9, -5, -1, 3,
     8, 13, 18, 23, 29, 35, 42, 49, 56, 63, 70, 76, 82, 86, 90, 94, 98, 102, 104, 108,
     110, 112, 114, 116, 118, 120, 118, 116, 114, 112, 112, 110, 108, 106, 104, 102, 98, 94, 90, 84,
     78, 72, 64, 56, 48, 40, 32, 22, 12, 2, -8, -16, -22, -25],
    [-25, -25, -24, -24, -23, -23, -22, -22, -21, -20, -19, -18, -17, -15, -13, -10, -7, -3, 2, 7,
     12, 18, 24, 31, 38, 46, 55, 64, 74, 84, 94, 104, 112, 120, 116, 124, 130, 136, 140, 134,
     130, 126, 122, 124, 118, 120, 116, 118, 114, 110, 108, 104, 100, 96, 92, 88, 82, 76, 70, 62,
     54, 46, 38, 30, 22, 14, 6, -2, -10, -16, -21, -24, -25, -26],
    [-26, -26, -25, -25, -24, -24, -23, -23, -22, -22, -21, -20, -19, -17, -16, -14, -11, -8, -4, 0,
     4, 8, 13, 18, 23, 29, 35, 42, 49, 56, 62, 68, 74, 80, 84, 88, 92, 94, 96, 98,
     100, 102, 104, 102, 106, 108, 106, 104, 100, 96, 92, 88, 82, 76, 70, 62, 54, 44, 34, 22,
     10, 0, -10, -20, -28, -31, -29, -28, -28, -27, -27, -26, -26, -26],
]

# ---------------- figure ----------------
W, H = 888, 598
FONT = "Times New Roman, Liberation Serif, Tinos, serif"
TICKVALS = [(k + 0.5) * 365 / 12 for k in range(12)]
X0, DX = DAYS[0], DAYS[1] - DAYS[0]

XL = [70.7 / W, 434.3 / W]
XR = [525.0 / W, 885.7 / W]
YT = [(H - 266.7) / H, (H - 60.7) / H]
YB = [(H - 568.3) / H, (H - 362.3) / H]

panels = [
    ("x", "y", A_LINES, A_MEAN),
    ("x2", "y2", B_LINES, B_MEAN),
    ("x3", "y3", C_LINES, C_MEAN),
    ("x4", "y4", D_LINES, D_MEAN),
]

fig = go.Figure()
for xa, ya, lines, mean in panels:
    for ln in lines:
        fig.add_trace(go.Scatter(y=ln, x0=X0, dx=DX, mode="lines", xaxis=xa, yaxis=ya,
                                 line=dict(color="black", width=1),
                                 showlegend=False, hoverinfo="skip"))
    fig.add_trace(go.Scatter(y=mean, x0=X0, dx=DX, mode="lines", xaxis=xa, yaxis=ya,
                             line=dict(color="#9c9c9c", width=3),
                             showlegend=False, hoverinfo="skip"))


def tfont():
    return dict(family=FONT, size=19, color="black")


def xaxis(domain, anchor, labels):
    return dict(domain=domain, anchor=anchor, range=[0, 365],
                tickvals=TICKVALS, ticktext=labels, tickangle=0,
                ticks="inside", ticklen=5, tickwidth=1.5, tickcolor="black",
                showline=True, linewidth=2, linecolor="black", mirror="ticks",
                showgrid=False, zeroline=False, tickfont=tfont())


def yaxis(domain, anchor, rng, dtick, mdtick):
    return dict(domain=domain, anchor=anchor, range=rng, tick0=0, dtick=dtick,
                ticks="inside", ticklen=7, tickwidth=1.5, tickcolor="black",
                minor=dict(dtick=mdtick, ticks="inside", ticklen=4, tickwidth=1,
                           tickcolor="black", showgrid=False),
                showline=True, linewidth=2, linecolor="black", mirror="ticks",
                showgrid=False, zeroline=False, tickfont=tfont())


fig.update_layout(
    width=W, height=H, margin=dict(l=0, r=0, t=0, b=0),
    paper_bgcolor="white", plot_bgcolor="white", showlegend=False,
    font=dict(family=FONT, color="black"),
    xaxis=xaxis(XL, "y", MONTHS_JUL),
    yaxis=yaxis(YT, "x", [3.46, 8.21], 1, 0.1),
    xaxis2=xaxis(XR, "y2", MONTHS_JAN),
    yaxis2=yaxis(YT, "x2", [3.46, 8.21], 1, 0.1),
    xaxis3=xaxis(XL, "y3", MONTHS_JUL),
    yaxis3=yaxis(YB, "x3", [-33.6, 144], 50, 10),
    xaxis4=xaxis(XR, "y4", MONTHS_JAN),
    yaxis4=yaxis(YB, "x4", [-33.6, 144], 50, 10),
)

annotations = []
ytitles = [("PV anomaly (PVU)", 37, YT), ("-PV anomaly (PVU)", 490, YT),
           ("PV anomaly (PVU)", 17, YB), ("-PV anomaly (PVU)", 470, YB)]
for text, px, dom in ytitles:
    annotations.append(dict(text=text, xref="paper", yref="paper", x=px / W,
                            y=(dom[0] + dom[1]) / 2, textangle=-90, showarrow=False,
                            xanchor="center", yanchor="middle",
                            font=dict(family=FONT, size=20, color="black")))
labels = [("(a)", 26, 23), ("(b)", 479, 23), ("(c)", 26, 318), ("(d)", 479, 318)]
for text, px, py in labels:
    annotations.append(dict(text=text, xref="paper", yref="paper", x=px / W,
                            y=1 - py / H, showarrow=False, xanchor="center",
                            yanchor="middle",
                            font=dict(family=FONT, size=25, color="black")))
fig.update_layout(annotations=annotations)

fig.write_html("out.html")
